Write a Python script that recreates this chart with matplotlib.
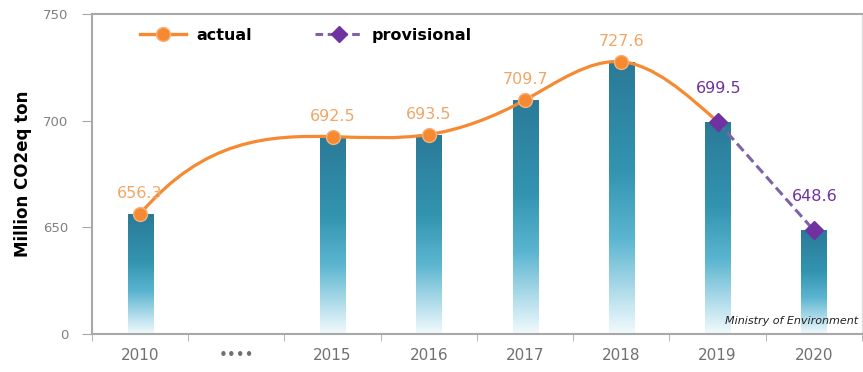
import matplotlib.pyplot as plt
from matplotlib.colors import LinearSegmentedColormap
from matplotlib.lines import Line2D
from matplotlib.patches import PathPatch
from matplotlib.path import Path
import numpy as np

# categories on the x axis; the dotted one stands for the skipped years
categories = ["2010", "••••", "2015", "2016", "2017", "2018", "2019", "2020"]

bar_years = ["2010", "2015", "2016", "2017", "2018", "2019", "2020"]
bar_values = [656.3, 692.5, 693.5, 709.7, 727.6, 699.5, 648.6]

actual_years = ["2010", "2015", "2016", "2017", "2018", "2019"]
actual_values = [656.3, 692.5, 693.5, 709.7, 727.6, 699.5]

provisional_years = ["2019", "2020"]
provisional_values = [699.5, 648.6]

# broken axis: the bottom of the plot is labelled 0
y_ticks = [600, 650, 700, 750]
y_tick_labels = ["0", "650", "700", "750"]

ORANGE = "#F58A32"
ORANGE_LABEL = "#F0A766"
PURPLE = "#7032A0"
PURPLE_LINE = "#7F63A8"
GRAY = "#808080"
SPINE = "#A8A8A8"

bar_cmap = LinearSegmentedColormap.from_list(
    "teal_fade",
    [(0.0, "#F2FAFD"), (0.12, "#BFE3EF"), (0.35, "#5BB5D0"), (0.6, "#3394B0"), (1.0, "#2A7A97")],
)


def spline_path(xs, ys):
    # cubic spline (not-a-knot at the start, natural at the end) as bezier segments
    xs = np.asarray(xs, float)
    ys = np.asarray(ys, float)
    n = len(xs)
    h = np.diff(xs)
    A = np.zeros((n, n))
    rhs = np.zeros(n)
    A[0, 0], A[0, 1], A[0, 2] = h[1], -(h[0] + h[1]), h[0]
    A[-1, -1] = 1.0
    for i in range(1, n - 1):
        A[i, i - 1] = h[i - 1]
        A[i, i] = 2 * (h[i - 1] + h[i])
        A[i, i + 1] = h[i]
        rhs[i] = 6 * ((ys[i + 1] - ys[i]) / h[i] - (ys[i] - ys[i - 1]) / h[i - 1])
    m = np.linalg.solve(A, rhs)
    d = np.zeros(n)
    for i in range(n - 1):
        d[i] = (ys[i + 1] - ys[i]) / h[i] - h[i] * (2 * m[i] + m[i + 1]) / 6
    d[-1] = (ys[-1] - ys[-2]) / h[-1] + h[-1] * (m[-2] + 2 * m[-1]) / 6

    verts = [(xs[0], ys[0])]
    codes = [Path.MOVETO]
    for i in range(n - 1):
        verts += [
            (xs[i] + h[i] / 3, ys[i] + h[i] * d[i] / 3),
            (xs[i + 1] - h[i] / 3, ys[i + 1] - h[i] * d[i + 1] / 3),
            (xs[i + 1], ys[i + 1]),
        ]
        codes += [Path.CURVE4] * 3
    return Path(verts, codes)


fig = plt.figure(figsize=(8.63, 3.72), dpi=100)
ax = fig.add_axes([0.1066, 0.1022, 0.8922, 0.8602])

pos = {c: i for i, c in enumerate(categories)}
bar_x = [pos[y] for y in bar_years]
act_x = [pos[y] for y in actual_years]
prov_x = [pos[y] for y in provisional_years]

y_lo, y_hi = y_ticks[0], y_ticks[-1]
bars = ax.bar(bar_x, bar_values, width=0.26, color="none", edgecolor="none", zorder=2)
grad = np.linspace(0, 1, 256).reshape(-1, 1)
for rect, v in zip(bars, bar_values):
    x0 = rect.get_x()
    im = ax.imshow(
        grad,
        cmap=bar_cmap,
        origin="lower",
        aspect="auto",
        extent=[x0, x0 + rect.get_width(), y_lo, v],
        zorder=2,
    )
    im.set_clip_path(rect)

# smoothed line for the actual emissions
ax.add_patch(PathPatch(spline_path(act_x, actual_values), facecolor="none",
                       edgecolor=ORANGE, linewidth=2.3, zorder=3, capstyle="round"))
ax.plot(act_x[:-1], actual_values[:-1], "o", color=ORANGE, markersize=10,
        markeredgecolor="#F7B27A", markeredgewidth=1.0, zorder=4)

ax.plot(prov_x, provisional_values, color=PURPLE_LINE, linewidth=2.2,
        linestyle=(0, (3.2, 1.6)), zorder=3)
ax.plot(prov_x, provisional_values, "D", color=PURPLE, markersize=9, zorder=5)

for x, v in zip(act_x[:-1], actual_values[:-1]):
    ax.annotate(f"{v:.1f}", (x, v), xytext=(0, 14.5), textcoords="offset points",
                ha="center", va="center", fontsize=11.5, color=ORANGE_LABEL)
for x, v in zip(prov_x, provisional_values):
    ax.annotate(f"{v:.1f}", (x, v), xytext=(1, 24), textcoords="offset points",
                ha="center", va="center", fontsize=11.5, color=PURPLE)

ax.set_xlim(-0.5, len(categories) - 0.5)
ax.set_ylim(y_lo, y_hi)
ax.set_yticks(y_ticks)
ax.set_yticklabels(y_tick_labels)
ax.set_xticks(range(len(categories)))
ax.set_xticklabels(categories)
ax.set_xticks(np.arange(-0.5, len(categories), 1.0), minor=True)
ax.tick_params(axis="x", which="major", length=0, pad=10, labelsize=11, labelcolor="#707070")
ax.tick_params(axis="x", which="minor", length=5, color=SPINE, direction="out")
ax.tick_params(axis="y", length=7, color=SPINE, labelsize=9.5, labelcolor=GRAY, pad=10)

for side in ("left", "bottom", "top"):
    ax.spines[side].set_color(SPINE)
    ax.spines[side].set_linewidth(1.5)
ax.spines["right"].set_color("#DDDDDD")
ax.spines["right"].set_linewidth(1.0)

ax.set_ylabel("Million CO2eq ton", fontsize=12, fontweight="bold", color="black", labelpad=8)

handles = [
    Line2D([], [], color=ORANGE, linewidth=2.4, marker="o", markersize=10,
           markeredgecolor="#F7B27A"),
    Line2D([], [], color=PURPLE_LINE, linewidth=2.2, linestyle=(0, (2.5, 1.5)),
           marker="D", markersize=8, markerfacecolor=PURPLE, markeredgecolor=PURPLE),
]
ax.legend(handles, ["actual", "provisional"], loc="center left", bbox_to_anchor=(0.052, 0.934),
          ncol=2, frameon=False, borderpad=0, handlelength=2.9, handletextpad=0.6,
          columnspacing=4.0, prop={"weight": "bold", "size": 11.5})

ax.text(0.995, 0.04, "Ministry of Environment", transform=ax.transAxes, ha="right",
        va="center", fontsize=8, style="italic", color="#222222", zorder=6)

fig.savefig("out.png", dpi=100)
